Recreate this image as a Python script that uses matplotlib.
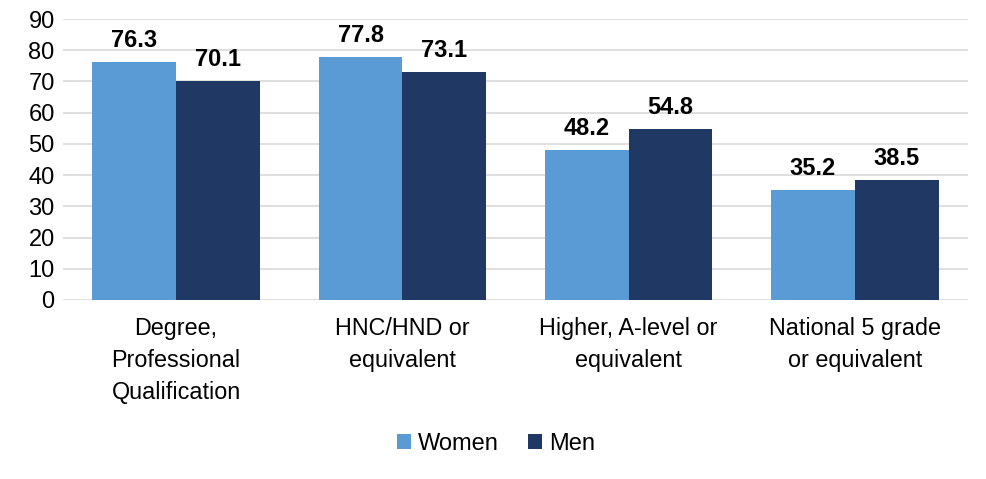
import matplotlib
matplotlib.use("Agg")
import matplotlib.pyplot as plt
import numpy as np

categories = ["Degree,\nProfessional\nQualification", "HNC/HND or\nequivalent",
              "Higher, A-level or\nequivalent", "National 5 grade\nor equivalent"]
women = [76.3, 77.8, 48.2, 35.2]
men = [70.1, 73.1, 54.8, 38.5]

plt.rcParams['font.family'] = ['Liberation Sans', 'DejaVu Sans']

fig = plt.figure(figsize=(9.86, 4.79), dpi=100)
ax = fig.add_axes([0.0639, 0.3737, 0.9178, 0.5866])

x = np.arange(len(categories))
w = 0.37
b1 = ax.bar(x - w / 2, women, w, color="#5B9BD5", label="Women", zorder=3)
b2 = ax.bar(x + w / 2, men, w, color="#203864", label="Men", zorder=3)

for bars in (b1, b2):
    for bar in bars:
        h = bar.get_height()
        ax.annotate("{:.1f}".format(h), (bar.get_x() + bar.get_width() / 2, h),
                    xytext=(0, 7), textcoords="offset points", ha="center", va="bottom",
                    fontsize=17, fontweight="bold")

ax.set_xlim(-0.5, len(categories) - 0.5)
ax.set_ylim(0, 90)
ax.set_yticks(range(0, 91, 10))
ax.yaxis.grid(True, color="#D9D9D9", linewidth=1.2, zorder=0)
for s in ax.spines.values():
    s.set_visible(False)
ax.tick_params(axis="both", length=0, labelsize=17)
ax.tick_params(axis="y", pad=6)
ax.tick_params(axis="x", pad=12)
ax.set_xticks(x)
ax.set_xticklabels(categories, fontsize=16.8, linespacing=1.5)

fig.legend(loc="center", bbox_to_anchor=(0.503, 0.073), ncol=2, frameon=False,
           fontsize=17, handlelength=0.6, handleheight=0.6, handletextpad=0.3,
           columnspacing=1.2)

fig.savefig("out.png", dpi=100)
